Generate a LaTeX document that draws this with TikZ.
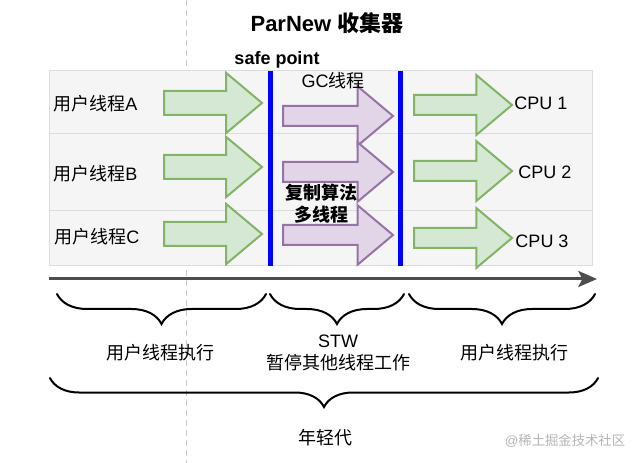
\documentclass[tikz,border=0pt]{standalone}
\usepackage{fontspec}
\setmainfont{Liberation Sans}
\newfontfamily\cjk{Noto Sans CJK SC}
\usetikzlibrary{arrows.meta,positioning,shapes.arrows,decorations.pathreplacing}
\definecolor{Green}{HTML}{82B366}
\definecolor{GreenFill}{HTML}{D5E8D4}
\definecolor{Purple}{HTML}{9673A6}
\definecolor{PurpleFill}{HTML}{E1D5E7}
\definecolor{Row}{HTML}{F5F5F5}
\definecolor{RowLine}{HTML}{DCDCDC}
\definecolor{Axis}{HTML}{4D4D4D}
\definecolor{Safe}{HTML}{0000FF}
\definecolor{Guide}{HTML}{C8C8C8}
\definecolor{Mark}{HTML}{B4B4B4}
\newcommand{\zh}[1]{{\cjk #1}}

\begin{document}
\begin{tikzpicture}[x=0.75pt,y=-0.75pt,
  txt/.style={font=\fontsize{13.5}{17}\selectfont,inner sep=0pt},
  rowbox/.style={draw=RowLine,fill=Row,line width=0.75pt},
  fatarrow/.style={shape=single arrow,anchor=tail,inner xsep=0pt,line width=1.5pt,
    single arrow tip angle=80},
  userarrow/.style={fatarrow,draw=Green,fill=GreenFill},
  gcarrow/.style={fatarrow,draw=Purple,fill=PurpleFill},
  safeline/.style={Safe,line width=3.75pt},
  timeline/.style={Axis,line width=2.25pt,-{Stealth[length=14pt,width=12pt,inset=3pt]}},
  timespan/.style={decorate,decoration={brace,mirror,amplitude=#1},line width=1.5pt,
    line cap=round}]
  \useasboundingbox (0,0) rectangle (639,463);
  \draw[Guide,line width=0.75pt,dash pattern=on 4.5pt off 3pt] (186,0) -- (186,463);

  % thread rows
  \draw[rowbox] (49,71) rectangle (592,134);
  \draw[rowbox] (49,134) rectangle (592,211);
  \draw[rowbox] (49,211) rectangle (592,266);

  \node[txt] (title) at (327,23) {\bfseries\fontsize{16.5}{20}\selectfont ParNew \zh{收集器}};
  \node[txt] (safe) at (277,60) {\bfseries safe point};

  \node[txt,anchor=west] (ua) at (53,104) {\zh{用户线程}A};
  \node[txt,anchor=west] (ub) at (53,174) {\zh{用户线程}B};
  \node[txt,anchor=west] (uc) at (54,237) {\zh{用户线程}C};

  % user threads before the safe point
  \node[userarrow,minimum height=73.5pt,inner ysep=8.25pt,single arrow head extend=13.5pt]
    (ga) at (163,103) {};
  \node[userarrow,minimum height=73.5pt,inner ysep=8.25pt,single arrow head extend=13.5pt]
    (gb) at (163,167) {};
  \node[userarrow,minimum height=73.5pt,inner ysep=8.25pt,single arrow head extend=13.5pt]
    (gc) at (163,234) {};

  % gc threads
  \node[gcarrow,minimum height=82.5pt,inner ysep=6.75pt,single arrow head extend=14.75pt]
    (pa) at (282,116) {};
  \node[gcarrow,minimum height=82.5pt,inner ysep=6.75pt,single arrow head extend=14.75pt]
    (pb) at (282,172) {};
  \node[gcarrow,minimum height=82.5pt,inner ysep=6.75pt,single arrow head extend=14.75pt]
    (pc) at (282,235) {};

  % user threads after gc
  \node[userarrow,minimum height=73.5pt,inner ysep=6.75pt,single arrow head extend=15pt]
    (ra) at (413,105) {};
  \node[userarrow,minimum height=73.5pt,inner ysep=6.75pt,single arrow head extend=15pt]
    (rb) at (413,171) {};
  \node[userarrow,minimum height=73.5pt,inner ysep=6.75pt,single arrow head extend=15pt]
    (rc) at (413,238) {};

  \coordinate (s1) at (270,71);
  \coordinate (s1e) at (270,266);
  \coordinate (s2) at (400,71);
  \coordinate (s2e) at (400,266);
  \draw[safeline] (s1) -- (s1e);
  \draw[safeline] (s2) -- (s2e);

  \node[txt] (gct) at (333,81) {GC\zh{线程}};
  \node[txt,align=center,font=\bfseries\fontsize{13.5}{16.5}\selectfont] (copy) at (321,204)
    {\zh{复制算法}\\\zh{多线程}};

  \node[txt] (c1) at (541,103) {CPU 1};
  \node[txt] (c2) at (545,172) {CPU 2};
  \node[txt] (c3) at (542,241) {CPU 3};

  % time axis and phases
  \coordinate (t0) at (49,279);
  \coordinate (t1) at (597,279);
  \draw[timeline] (t0) -- (t1);

  \draw[timespan=22.5pt] (57,294) -- (266,294);
  \draw[timespan=22.5pt] (270,294) -- (404,294);
  \draw[timespan=22.5pt] (409,294) -- (595,294);
  \draw[timespan=21.75pt] (50,378) -- (598,378);

  \node[txt] (run1) at (160,353) {\zh{用户线程执行}};
  \node[txt,align=center,font=\fontsize{13.5}{17}\selectfont] (stw) at (338,353)
    {STW\\\zh{暂停其他线程工作}};
  \node[txt] (run2) at (514,353) {\zh{用户线程执行}};
  \node[txt] (young) at (325,438) {\zh{年轻代}};

  \node[txt,font=\fontsize{10}{12}\selectfont,text=Mark] (mark) at (565,441) {@\zh{稀土掘金技术社区}};
\end{tikzpicture}
\end{document}
